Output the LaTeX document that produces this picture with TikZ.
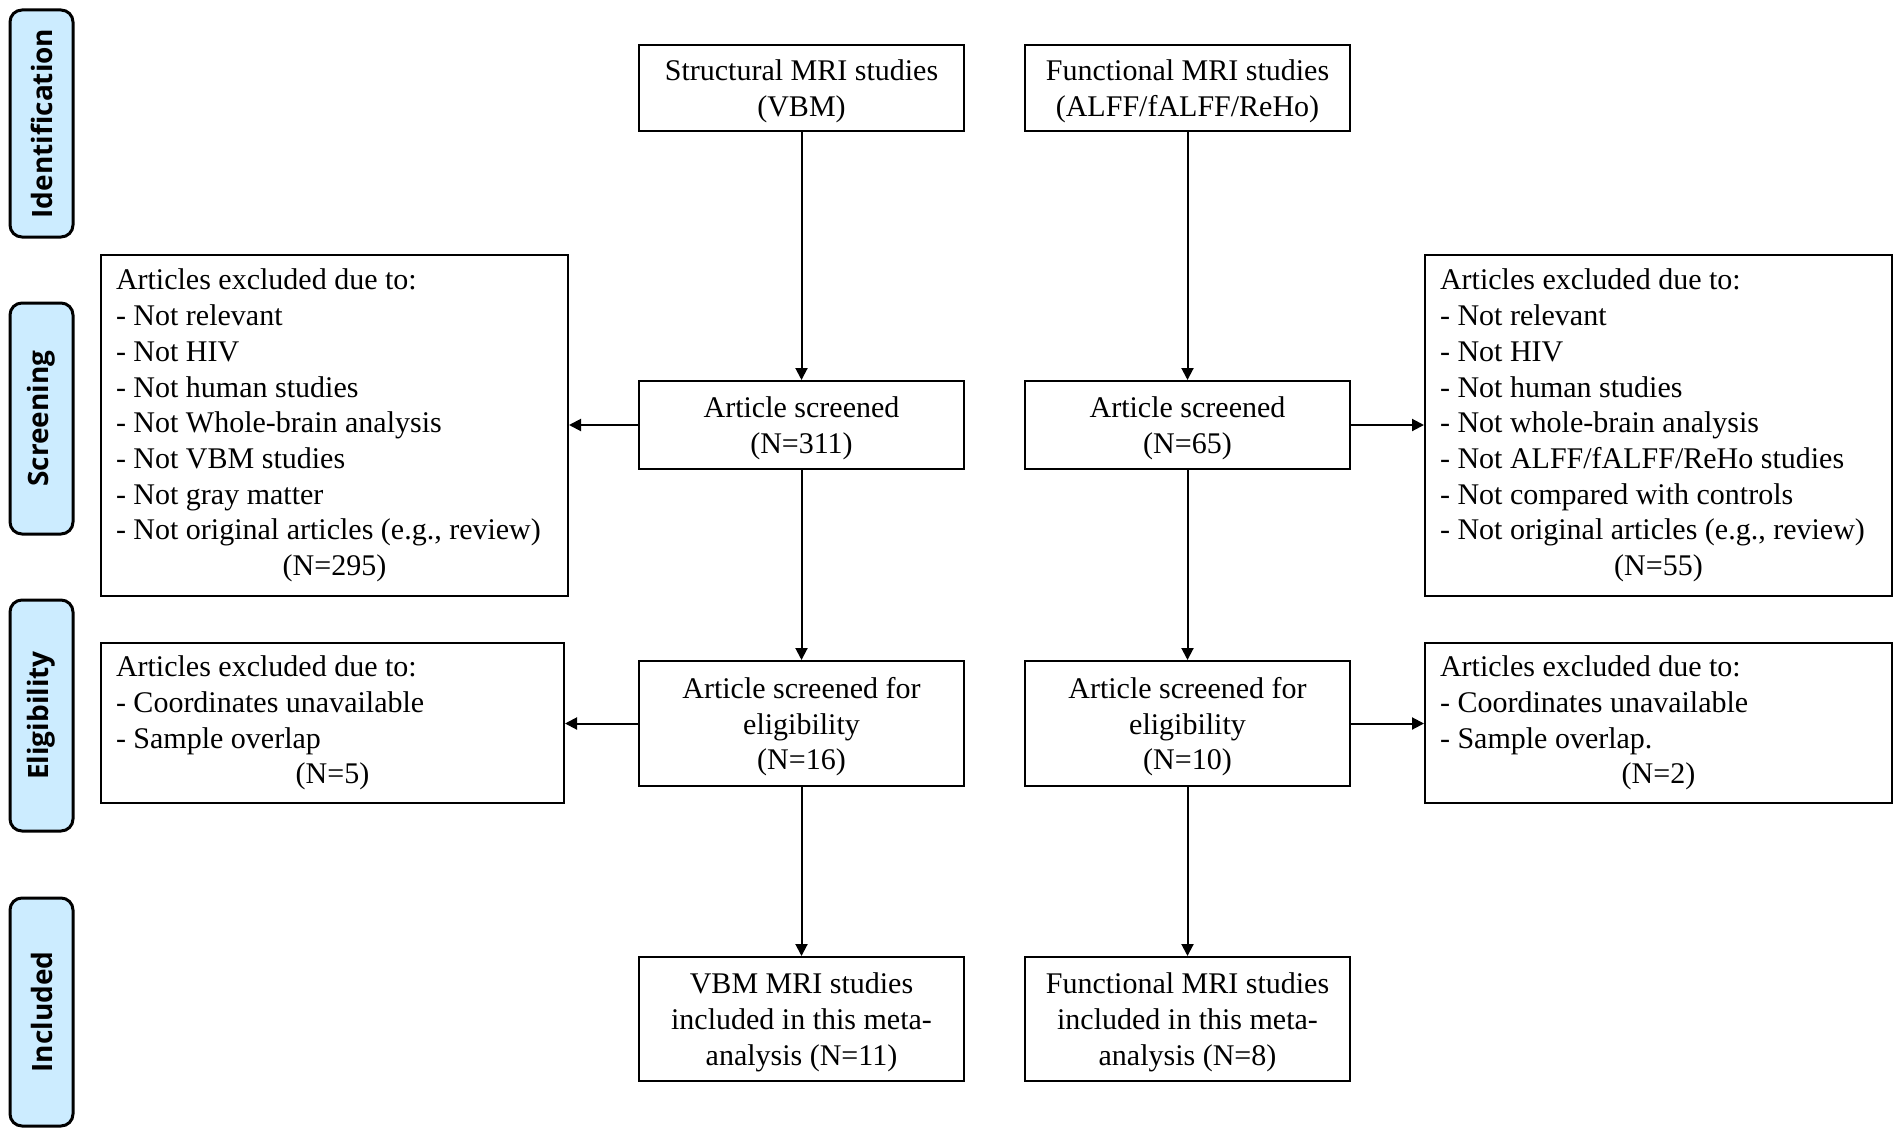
\documentclass[tikz,border=0pt]{standalone}
\usepackage{fontspec}
\setmainfont{Liberation Serif}
\newfontfamily\pillfont{Open Sans}
\usetikzlibrary{arrows.meta}
\definecolor{pillblue}{RGB}{204,236,255}
\begin{document}
\begin{tikzpicture}[x=1pt,y=-1pt,
  every node/.style={font=\fontsize{30}{35.7}\selectfont},
  mainbox/.style={draw, line width=2pt, minimum width=325pt, align=center, inner sep=0pt, text depth=0pt},
  exbox/.style={draw, line width=2pt, align=left, inner xsep=15pt, inner ysep=0pt},
  pill/.style={draw, line width=3pt, fill=pillblue, rounded corners=12pt, rotate=90,
    minimum height=63pt, inner sep=0pt, font=\pillfont\bfseries\fontsize{28}{30}\selectfont},
  arr/.style={line width=2pt, -{Triangle[length=12pt,width=12pt]}}
]
\path[use as bounding box, fill=white] (0,0) rectangle (1902,1137);

% stage pills
\node[pill, minimum width=227pt] (pid) at (41.5,123.5) {Identification};
\node[pill, minimum width=231pt] (psc) at (41.5,418.5) {Screening};
\node[pill, minimum width=231pt] (pel) at (41.5,715.5) {Eligibility};
\node[pill, minimum width=228pt] (pin) at (41.5,1012) {Included};

% main column boxes
\node[mainbox, minimum height=86pt] (id1) at (801.5,88) {Structural MRI studies\\(VBM)};
\node[mainbox, minimum height=86pt] (id2) at (1187.5,88) {Functional MRI studies\\(ALFF/fALFF/ReHo)};
\node[mainbox, minimum height=88pt] (sc1) at (801.5,425) {Article screened\\(N=311)};
\node[mainbox, minimum height=88pt] (sc2) at (1187.5,425) {Article screened\\(N=65)};
\node[mainbox, minimum height=125pt] (el1) at (801.5,723.5) {Article screened for\\eligibility\\(N=16)};
\node[mainbox, minimum height=125pt] (el2) at (1187.5,723.5) {Article screened for\\eligibility\\(N=10)};
\node[mainbox, minimum height=124pt] (in1) at (801.5,1019) {VBM MRI studies\\included in this meta-\\analysis (N=11)};
\node[mainbox, minimum height=124pt] (in2) at (1187.5,1019) {Functional MRI studies\\included in this meta-\\analysis (N=8)};

% exclusion boxes
\node[exbox, minimum width=467pt, minimum height=341pt] (ex1L) at (334.5,425.5)
  {Articles excluded due to:\\- Not relevant\\- Not HIV\\- Not human studies\\- Not Whole-brain analysis\\- Not VBM studies\\- Not gray matter\\- Not original articles (e.g., review)\\\makebox[437pt]{(N=295)}};
\node[exbox, minimum width=467pt, minimum height=341pt] (ex1R) at (1658.5,425.5)
  {Articles excluded due to:\\- Not relevant\\- Not HIV\\- Not human studies\\- Not whole-brain analysis\\- Not ALFF/fALFF/ReHo studies\\- Not compared with controls\\- Not original articles (e.g., review)\\\makebox[437pt]{(N=55)}};
\node[exbox, minimum width=463pt, minimum height=160pt] (ex2L) at (332.5,723)
  {Articles excluded due to:\\- Coordinates unavailable\\- Sample overlap\\\makebox[433pt]{(N=5)}};
\node[exbox, minimum width=467pt, minimum height=160pt] (ex2R) at (1658.5,723)
  {Articles excluded due to:\\- Coordinates unavailable\\- Sample overlap.\\\makebox[437pt]{(N=2)}};

% connectors
\draw[arr] (id1) -- (sc1);
\draw[arr] (sc1) -- (el1);
\draw[arr] (el1) -- (in1);
\draw[arr] (id2) -- (sc2);
\draw[arr] (sc2) -- (el2);
\draw[arr] (el2) -- (in2);
\draw[arr] (sc1.west) -- (sc1.west -| ex1L.east);
\draw[arr] (sc2.east) -- (sc2.east -| ex1R.west);
\draw[arr] (el1.west) -- (el1.west -| ex2L.east);
\draw[arr] (el2.east) -- (el2.east -| ex2R.west);
\end{tikzpicture}
\end{document}
